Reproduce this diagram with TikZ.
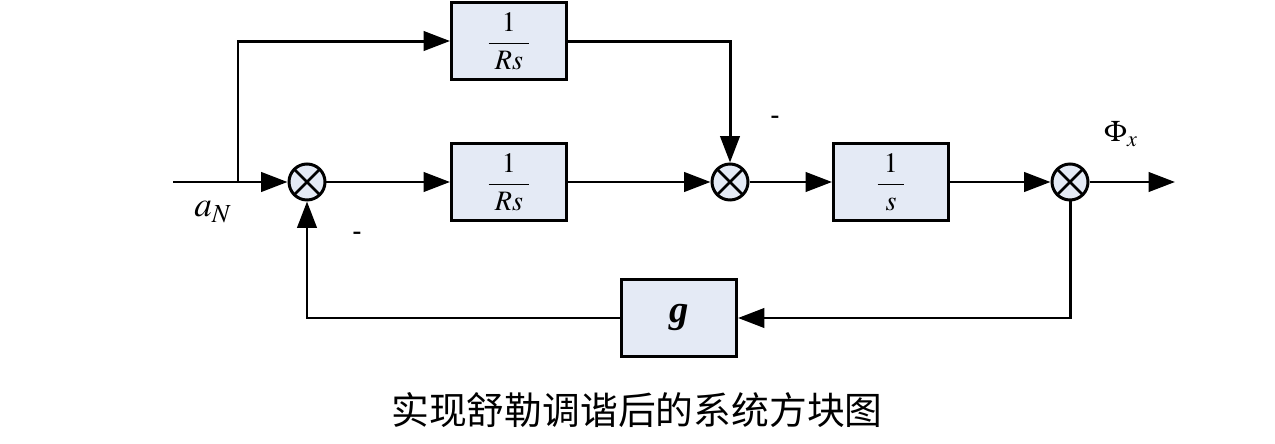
\documentclass[tikz,border=0pt]{standalone}
\usepackage{amsmath}
\usepackage{mathptmx}
\usepackage{fontspec}
\setmainfont{Liberation Serif}
\newfontfamily\cjk{Noto Sans CJK SC}
\usetikzlibrary{positioning,arrows.meta}
\definecolor{blockfill}{HTML}{E4EAF5}

\begin{document}
\begin{tikzpicture}[line width=1.7pt,
  arr/.style={-{Triangle[length=15pt,width=11pt]}},
  block/.style={draw,fill=blockfill,minimum width=2.3cm,minimum height=1.54cm,inner sep=0pt,font=\fontsize{16}{18}\selectfont},
  sumnode/.style={draw,circle,fill=blockfill,minimum size=0.72cm,inner sep=0pt,
    path picture={\draw[line width=1.5pt] (path picture bounding box.north west)--(path picture bounding box.south east)
      (path picture bounding box.north east)--(path picture bounding box.south west);}}]
\useasboundingbox (0,0) rectangle (25.5,8.86);
% forward path
\coordinate (in) at (3.46,5.22);
\coordinate (br) at (4.76,5.22);
\node[sumnode] (s1) at (6.14,5.22) {};
\node[block] (b2) at (10.18,5.22) {$\dfrac{\,1\,}{\;Rs\;}$};
\node[block,above=1.22cm of b2] (b1) {$\dfrac{\,1\,}{\;Rs\;}$};
\node[sumnode] (s2) at (14.6,5.22) {};
\node[block] (b3) at (17.82,5.22) {$\dfrac{\;1\;}{\;s\;}$};
\node[sumnode] (s3) at (21.4,5.22) {};
\coordinate (out) at (23.5,5.22);
% feedback
\node[block,font=\fontsize{22}{24}\selectfont] (bg) at (13.58,2.5) {\textbf{\textit{g}}};
% labels
\node[font=\fontsize{20}{22}\selectfont] (aN) at (4.26,4.62) {$a_N$};
\node[font=\fontsize{17}{19}\selectfont] (phi) at (22.42,6.18) {$\Phi_{x}$};
\node[font=\bfseries\fontsize{15}{16}\selectfont] (m1) at (15.5,6.46) {-};
\node[font=\bfseries\fontsize{15}{16}\selectfont] (m2) at (7.14,4.14) {-};
\node[font=\cjk\fontsize{21.5}{24}\selectfont] (cap) at (12.74,0.66) {实现舒勒调谐后的系统方块图};

\draw (in) -- (br);
\draw[arr] (br) -- (s1);
\draw[arr] (br) |- (b1);
\draw[arr] (s1) -- (b2);
\draw[arr] (b2) -- (s2);
\draw[arr] (b1.east) -| (s2);
\draw[arr] (s2) -- (b3);
\draw[arr] (b3) -- (s3);
\draw[arr] (s3) -- (out);
\draw[arr] (s3) |- (bg);
\draw[arr] (bg) -| (s1);
\end{tikzpicture}
\end{document}
